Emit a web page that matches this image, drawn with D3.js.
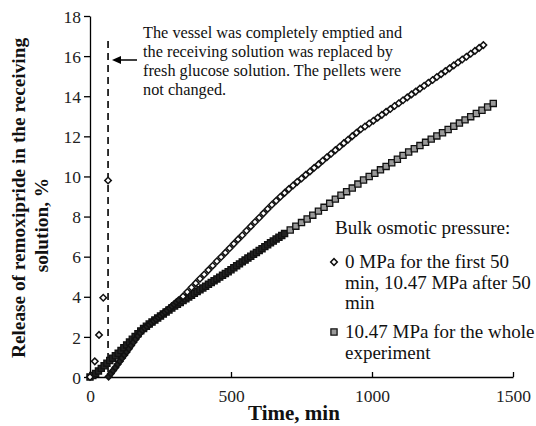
<!DOCTYPE html>
<html><head><meta charset="utf-8">
<script src="https://cdn.jsdelivr.net/npm/d3@7"></script>
<style>body{margin:0;background:#fff}svg{display:block}text{font-family:"Liberation Serif","Times New Roman",serif}</style>
</head><body><svg id="c" width="536" height="426"></svg>
<script>
// Series A: 0 MPa first 50 min, then 10.47 MPa (open diamonds)
const preTimes = [0, 17, 32, 47, 64];
const preValues = [0.0, 0.78, 2.1, 3.95, 9.8];
const postTimes = [66,74,82,90,98,106,114,122,130,138,146,154,162,170,178,186,194,202,210,218,226,234,242,250,258,266,274,282,290,298,306,314,
 330,345,360,375,390,405,420,435,450,465,480,495,510,525,540,555,570,585,600,615,630,645,660,675,690,705,720,735,750,765,780,795,810,825,840,855,870,885,900,915,930,945,960,975,990,1005,1020,1035,1050,1065,1080,1095,1110,1125,1140,1155,1170,1185,1200,1215,1230,1245,1260,1275,1290,1305,1320,1335,1350,1365,1380,1395];
const postValues = [0.02,0.17,0.32,0.47,0.63,0.79,0.95,1.10,1.25,1.41,1.57,1.73,1.89,2.05,2.20,2.33,2.43,2.52,2.61,2.70,2.79,2.88,2.97,3.06,3.15,3.24,3.33,3.43,3.53,3.63,3.73,3.83,
 4.02,4.24,4.46,4.68,4.90,5.11,5.33,5.55,5.77,5.98,6.20,6.42,6.64,6.86,7.07,7.29,7.51,7.73,7.94,8.16,8.38,8.59,8.79,8.99,9.18,9.37,9.55,9.73,9.90,10.08,10.25,10.43,10.60,10.78,10.96,11.13,11.31,11.48,11.66,11.83,12.01,12.18,12.35,12.49,12.64,12.78,12.93,13.07,13.22,13.36,13.51,13.65,13.80,13.94,14.09,14.23,14.38,14.52,14.67,14.81,14.96,15.10,15.25,15.39,15.54,15.68,15.83,15.97,16.12,16.26,16.41,16.55];
// Series B: 10.47 MPa whole experiment (grey squares)
const bTimes = [0,10,20,30,40,50,60,70,80,90,100,110,120,130,140,150,160,170,180,190,200,210,220,230,240,250,260,270,280,290,300,310,320,330,340,350,360,370,380,390,400,410,420,430,440,450,460,470,480,490,500,510,520,530,540,550,560,570,580,590,600,610,620,630,640,650,660,670,680,690,
 710,730,750,770,790,810,830,850,870,890,910,930,950,970,990,1010,1030,1050,1070,1090,1110,1130,1150,1170,1190,1210,1230,1250,1270,1290,1310,1330,1350,1370,1390,1410,1430];
const bValues = [0.00,0.08,0.18,0.30,0.43,0.56,0.69,0.82,0.94,1.06,1.18,1.32,1.46,1.60,1.74,1.88,2.02,2.16,2.30,2.42,2.53,2.64,2.74,2.84,2.94,3.04,3.14,3.24,3.34,3.44,3.54,3.63,3.72,3.81,3.90,3.99,4.08,4.17,4.26,4.35,4.44,4.53,4.62,4.71,4.80,4.89,4.98,5.07,5.16,5.25,5.35,5.45,5.55,5.64,5.74,5.83,5.93,6.02,6.12,6.21,6.31,6.40,6.50,6.59,6.69,6.78,6.88,6.97,7.06,7.15,
 7.33,7.52,7.70,7.88,8.07,8.27,8.46,8.66,8.87,9.06,9.24,9.42,9.62,9.82,10.00,10.16,10.33,10.50,10.68,10.86,11.05,11.22,11.38,11.54,11.70,11.86,12.02,12.18,12.34,12.50,12.66,12.82,12.98,13.14,13.30,13.46,13.64];
const xTicks = [0, 500, 1000, 1500];
const yTicks = [0, 2, 4, 6, 8, 10, 12, 14, 16, 18];
const replaceTime = 64;
const denseEndA = 314, denseEndB = 690;
const annotationLines = ["The vessel was completely emptied and", "the receiving solution was replaced by", "fresh glucose solution. The pellets were", "not changed."];
const legendTitle = "Bulk osmotic pressure:";
const legendA = ["0 MPa for the first 50", "min, 10.47 MPa after 50", "min"];
const legendB = ["10.47 MPa for the whole", "experiment"];
const yTitle = ["Release of remoxipride in the receiving", "solution, %"];
const xTitle = "Time, min";

const svg = d3.select("#c");
const x = d3.scaleLinear().domain([0, 1500]).range([90, 513]);
const y = d3.scaleLinear().domain([0, 18]).range([377, 16]);

// axes
const gx = svg.append("g").attr("transform", "translate(0,377)")
  .call(d3.axisBottom(x).tickValues(xTicks).tickFormat(d3.format("d")).tickSizeInner(-5).tickSizeOuter(0).tickPadding(13));
const gy = svg.append("g").attr("transform", "translate(90,0)")
  .call(d3.axisLeft(y).tickValues(yTicks).tickSizeInner(6).tickSizeOuter(0).tickPadding(3));
[gx, gy].forEach(g => {
  g.selectAll("path,line").attr("stroke", "#000").attr("stroke-width", 1.3);
  g.selectAll("text").attr("font-family", "Liberation Serif").attr("font-size", 17.5).attr("fill", "#222");
});
gy.selectAll("text").attr("dy", "0.35em");

// dashed line
svg.append("line").attr("x1", x(replaceTime)).attr("x2", x(replaceTime))
  .attr("y1", 41).attr("y2", y(0)).attr("stroke", "#000").attr("stroke-width", 1.6)
  .attr("stroke-dasharray", "7,5");

// series B squares
const bData = bTimes.map((t, i) => [t, bValues[i]]);
const sq = d3.symbol().type(d3.symbolSquare).size(38);
svg.append("g").selectAll("path").data(bData).join("path")
  .attr("d", sq).attr("transform", d => `translate(${x(d[0])},${y(d[1])})`)
  .attr("fill", d => d[0] <= denseEndB ? "#222" : "#9a9a9a").attr("stroke", "#111").attr("stroke-width", 1.3);

// series A diamonds
const aData = preTimes.map((t, i) => [t, preValues[i], false]).concat(postTimes.map((t, i) => [t, postValues[i], true]));
const dm = d3.symbol().type(d3.symbolSquare).size(21);
svg.append("g").selectAll("path").data(aData).join("path")
  .attr("d", dm).attr("transform", d => `translate(${x(d[0])},${y(d[1])}) rotate(45)`)
  .attr("fill", d => (d[2] && d[0] <= denseEndA) ? "#222" : "#fff").attr("stroke", "#111").attr("stroke-width", 1.5);

// annotation
const ann = svg.append("text").attr("font-size", 16.3).attr("fill", "#111");
annotationLines.forEach((l, i) => ann.append("tspan").attr("x", 143).attr("y", 38 + i * 19).text(l));
// arrow
svg.append("line").attr("x1", 137).attr("x2", 118).attr("y1", 60).attr("y2", 60).attr("stroke", "#000").attr("stroke-width", 1.5);
svg.append("path").attr("d", "M112,60 L121,56 L121,64 Z").attr("fill", "#000");

// legend
svg.append("text").attr("x", 335).attr("y", 234).attr("font-size", 19).attr("fill", "#111").text(legendTitle);
legendA.forEach((l, i) => svg.append("text").attr("x", 345).attr("y", 268 + i * 20.5).attr("font-size", 19).attr("fill", "#111").text(l));
legendB.forEach((l, i) => svg.append("text").attr("x", 345).attr("y", 338 + i * 21).attr("font-size", 19).attr("fill", "#111").text(l));
svg.append("path").attr("d", d3.symbol().type(d3.symbolSquare).size(22)).attr("transform", "translate(334,262) rotate(45)")
  .attr("fill", "#fff").attr("stroke", "#111").attr("stroke-width", 1.5);
svg.append("path").attr("d", d3.symbol().type(d3.symbolSquare).size(38)).attr("transform", "translate(334,332)")
  .attr("fill", "#9a9a9a").attr("stroke", "#111").attr("stroke-width", 1.3);

// titles
svg.append("text").attr("x", 294).attr("y", 420).attr("text-anchor", "middle").attr("font-weight", "bold").attr("font-size", 21).attr("fill", "#111").text(xTitle);
svg.append("text").attr("transform", "translate(25,198) rotate(-90)").attr("text-anchor", "middle").attr("font-weight", "bold").attr("font-size", 19.3).attr("fill", "#111").text(yTitle[0]);
svg.append("text").attr("transform", "translate(48,225) rotate(-90)").attr("text-anchor", "middle").attr("font-weight", "bold").attr("font-size", 19.3).attr("fill", "#111").text(yTitle[1]);
</script></body></html>
